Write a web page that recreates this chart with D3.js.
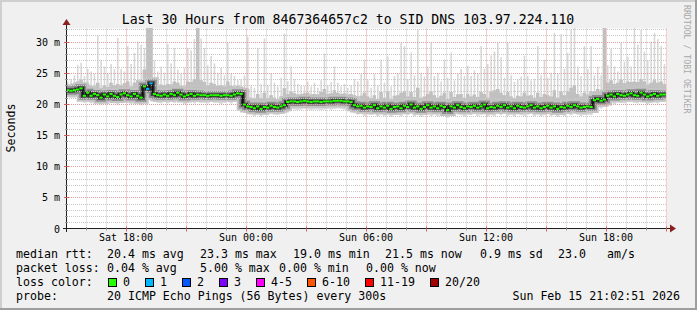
<!DOCTYPE html>
<html><head><meta charset="utf-8">
<script src="https://cdn.jsdelivr.net/npm/d3@7"></script>
<style>
html,body{margin:0;padding:0;background:#f0f0f0;}
svg{display:block;}
text{font-family:"DejaVu Sans Mono",monospace;fill:#000;}
</style></head><body>
<svg id="c" width="697" height="310"></svg>
<script>
// ---------------- data ----------------
const title = "Last 30 Hours from 8467364657c2 to SID DNS 103.97.224.110";
const yLabel = "Seconds";
const watermark = "RRDTOOL / TOBI OETIKER";
const startTime = Date.UTC(2026, 1, 14, 15, 2, 51);
const endTime = Date.UTC(2026, 1, 15, 21, 2, 51);
const firstStep = Date.UTC(2026, 1, 14, 15, 0, 0);
const stepMinutes = 10;

// median rtt (ms) per 10-minute step
const med = [
22.2,22.1,22.2,22.3,22.5,21.3,21.8,21.3,21.6,21.4,
21.0,21.5,21.2,21.6,21.3,21.1,21.5,21.7,21.4,21.2,
21.6,21.3,21.0,22.8,22.4,23.3,21.6,21.4,21.3,21.5,
21.3,21.6,21.4,21.8,21.5,21.2,21.4,21.6,21.3,21.5,
21.4,21.4,21.3,21.4,21.4,21.4,21.3,21.4,21.4,21.3,
21.5,21.7,21.6,19.9,19.6,19.5,19.3,19.6,19.2,19.5,
19.4,19.7,19.5,19.4,19.6,19.8,20.3,20.4,20.4,20.3,
20.4,20.5,20.4,20.3,20.4,20.4,20.3,20.4,20.4,20.4,
20.5,20.5,20.5,20.4,20.4,20.3,19.8,19.6,19.7,19.4,
19.6,19.5,19.8,19.3,19.6,19.4,19.7,19.2,19.5,19.6,
19.3,19.7,19.5,19.9,19.4,19.6,19.2,19.5,19.8,19.4,
19.6,19.3,19.7,19.5,19.0,19.6,19.4,19.8,19.5,19.3,
19.6,19.5,19.7,19.4,19.6,19.9,19.3,19.5,19.4,19.7,
19.5,19.8,19.4,19.6,19.3,19.7,19.5,19.4,19.6,19.8,
19.4,19.6,19.3,19.5,19.7,19.4,19.6,19.2,19.5,19.4,
19.7,19.5,19.8,19.6,19.4,19.5,19.6,19.5,20.6,20.8,
20.5,20.7,21.3,21.5,21.2,21.6,21.4,21.3,21.5,21.7,
21.4,21.3,21.8,21.5,21.2,21.4,21.6,21.3,21.5,21.5];

// max ping (ms) per step - top of the light smoke
const hi = [
23.6,24.0,24.6,26.2,26.6,24.5,25.6,25.2,24.8,31.0,
27.1,26.0,24.8,26.4,25.6,30.6,25.6,25.2,29.3,26.4,
28.2,30.0,29.5,29.0,33.0,33.0,27.0,25.2,26.0,25.0,
29.6,26.5,29.0,25.5,24.9,25.8,29.0,28.6,30.4,33.0,
30.5,29.0,26.2,27.7,26.5,25.0,25.8,24.6,29.8,24.8,
24.5,23.8,24.0,24.6,30.8,22.9,22.6,29.0,23.2,30.5,
23.0,24.9,23.4,22.8,24.2,31.3,23.6,26.0,24.0,23.2,
23.0,22.9,23.6,22.8,23.4,22.6,23.8,28.1,23.0,23.5,
26.0,23.4,22.8,23.2,22.6,23.0,24.0,23.6,24.8,27.1,
23.8,22.6,24.8,23.0,27.1,23.4,27.6,22.8,24.5,24.9,
29.8,29.3,24.0,28.2,24.6,32.0,25.0,24.4,26.0,29.8,
24.5,25.0,23.6,27.1,24.2,28.2,23.8,24.9,25.6,24.5,
26.1,24.5,25.4,24.8,29.3,25.6,26.4,27.8,28.4,29.8,
27.5,24.2,29.8,24.6,23.5,24.0,24.4,27.7,24.5,23.8,
24.0,29.3,24.6,27.1,24.2,25.0,31.4,24.8,31.2,25.6,
28.2,32.0,33.0,26.0,24.5,29.3,25.6,29.3,24.6,26.0,
24.6,33.0,26.2,28.8,26.0,25.2,29.8,26.8,27.6,26.0,
33.0,29.5,31.9,28.4,27.0,30.0,31.4,30.4,29.3,26.4];

// upper edge of the denser (mid-gray) smoke per step
const up = [
22.9,23.0,23.1,23.6,23.9,22.6,23.2,22.9,22.8,23.4,
22.6,23.0,22.7,23.4,22.9,23.2,23.0,23.3,23.6,22.8,
23.4,23.8,23.0,25.5,33.0,33.0,23.6,22.9,23.1,23.0,
23.2,23.1,23.6,23.4,22.9,22.8,23.6,23.5,24.0,33.0,
23.8,23.5,23.0,23.4,23.2,22.9,23.0,22.8,23.6,22.9,
22.8,22.9,22.8,21.6,22.4,21.0,20.8,21.6,20.9,21.8,
20.9,21.4,21.0,20.8,21.2,22.5,21.6,22.0,21.7,21.5,
21.6,21.7,21.8,21.5,21.6,21.5,21.9,22.4,21.6,21.7,
22.2,21.8,21.6,21.7,21.5,21.6,21.4,21.0,21.3,21.8,
21.2,20.9,21.4,20.8,21.9,21.0,22.0,20.7,21.3,21.4,
21.8,22.0,21.2,21.9,21.1,22.6,21.0,21.2,21.6,22.0,
21.4,21.0,21.3,21.8,20.8,21.9,21.1,21.5,21.6,21.0,
21.6,21.2,21.5,21.1,21.9,21.6,21.0,22.0,22.2,22.4,
21.8,21.4,21.9,21.2,20.9,21.3,21.2,21.8,21.3,21.4,
21.0,21.8,21.1,21.6,21.4,21.2,22.2,21.0,22.0,21.4,
22.0,22.6,23.0,21.6,21.2,21.8,21.4,22.0,22.0,22.4,
22.0,33.0,23.4,23.8,23.2,23.4,23.9,23.3,23.6,23.5,
23.6,23.5,24.0,23.6,23.1,23.4,23.8,23.4,23.6,23.2];

// min ping (ms) per step - bottom of the smoke
const lo = [
21.1,21.0,21.0,21.2,21.1,20.2,20.4,20.1,20.3,20.2,
19.9,20.3,20.0,20.4,20.1,19.9,20.2,20.5,20.2,20.0,
20.4,20.1,19.8,21.3,21.1,21.4,20.3,20.2,20.1,20.3,
20.1,20.4,20.2,20.6,20.3,20.0,20.2,20.4,20.1,20.3,
20.2,20.2,20.1,20.3,20.2,20.2,20.0,20.2,20.3,20.1,
20.4,20.5,20.4,18.7,18.4,18.3,18.1,18.4,18.0,18.3,
18.2,18.5,18.3,18.2,18.4,18.6,19.1,19.2,19.1,19.0,
19.1,19.2,19.1,19.0,19.1,19.1,19.0,19.1,19.2,19.1,
19.2,19.3,19.2,19.1,19.1,19.0,18.5,18.3,18.4,18.1,
18.3,18.2,18.4,18.0,18.3,18.1,18.4,17.9,18.2,18.3,
18.0,18.4,18.2,18.6,18.1,18.3,17.9,18.2,18.5,18.1,
18.3,18.0,18.4,18.2,17.8,18.3,18.1,18.5,18.2,18.0,
18.3,18.2,18.4,18.1,18.3,18.6,18.0,18.2,18.1,18.4,
18.2,18.5,18.1,18.3,18.0,18.4,18.2,18.1,18.3,18.5,
18.1,18.3,18.0,18.2,18.4,18.1,18.3,17.9,18.2,18.1,
18.4,18.2,18.5,18.3,18.1,18.2,18.3,18.2,19.3,19.5,
19.3,19.5,20.1,20.3,20.0,20.4,20.2,20.1,20.3,20.5,
20.2,20.1,20.6,20.3,20.0,20.2,20.4,20.1,20.3,20.3];

// steps with packet loss: [step index, lost pings]
const lossSteps = [[24, 1], [25, 1]];

const yTicks = [0, 5, 10, 15, 20, 25, 30];
const yTickLabels = ["0", "5 m", "10 m", "15 m", "20 m", "25 m", "30 m"];
const xTickTimes = [Date.UTC(2026,1,14,18), Date.UTC(2026,1,15,0), Date.UTC(2026,1,15,6), Date.UTC(2026,1,15,12), Date.UTC(2026,1,15,18)];
const xTickLabels = ["Sat 18:00", "Sun 00:00", "Sun 06:00", "Sun 12:00", "Sun 18:00"];

const rttStats = ["20.4 ms avg", "23.3 ms max", "19.0 ms min", "21.5 ms now", "0.9 ms sd", "23.0", "am/s"];
const lossStats = ["0.04 % avg", "5.00 % max", "0.00 % min", "0.00 % now"];
const lossLabels = ["0", "1", "2", "3", "4-5", "6-10", "11-19", "20/20"];
const lossColors = ["#26ff00", "#00b8ff", "#0059ff", "#7e00ff", "#ff00ff", "#ff5500", "#ff0000", "#a10000"];
const lossCountToClass = [0, 1, 2, 3, 4, 4, 5, 5, 5, 5, 5, 6, 6, 6, 6, 6, 6, 6, 6, 6, 7];
const probeText = "20 ICMP Echo Pings (56 Bytes) every 300s";
const dateText = "Sun Feb 15 21:02:51 2026";

// ---------------- layout ----------------
const W = 697, H = 310;
const PL = 67, PR = 667, PT = 28.5, PB = 228.5;
const yMax = 32.1;

const svg = d3.select("#c");
svg.append("rect").attr("width", W).attr("height", H).attr("fill", "#f0f0f0");
svg.append("rect").attr("x", 0).attr("y", 0).attr("width", W).attr("height", 2).attr("fill", "#cfcfcf");
svg.append("rect").attr("x", 0).attr("y", 0).attr("width", 2).attr("height", H).attr("fill", "#cfcfcf");
svg.append("rect").attr("x", 0).attr("y", H - 2).attr("width", W).attr("height", 2).attr("fill", "#9e9e9e");
svg.append("rect").attr("x", W - 2).attr("y", 0).attr("width", 2).attr("height", H).attr("fill", "#9e9e9e");

const x = d3.scaleUtc().domain([startTime, endTime]).range([PL, PR]);
const y = d3.scaleLinear().domain([0, yMax]).range([PB, PT]);

svg.append("rect").attr("x", PL).attr("y", PT).attr("width", PR - PL).attr("height", PB - PT).attr("fill", "#ffffff");

svg.append("defs").append("clipPath").attr("id", "clip")
  .append("rect").attr("x", PL).attr("y", PT - 0.5).attr("width", PR - PL - 1).attr("height", PB - PT);

const rows = med.map((m, i) => ({ t: firstStep + i * stepMinutes * 60000, med: m, hi: hi[i], up: up[i], lo: lo[i], loss: 0 }));
lossSteps.forEach(([i, n]) => { rows[i].loss = n; });
const last = rows[rows.length - 1];
const rowsExt = rows.concat([{ ...last, t: last.t + stepMinutes * 60000 }]);
const stepW = x(firstStep + stepMinutes * 60000) - x(firstStep);

const plot = svg.append("g").attr("clip-path", "url(#clip)");

// smoke: thin light spikes up to the max ping
plot.selectAll("rect.spike").data(rows).join("rect").attr("class", "spike")
  .attr("x", d => x(d.t) + stepW * 0.3).attr("width", stepW * 0.45)
  .attr("y", d => y(d.hi)).attr("height", d => Math.max(0, y(d.lo) - y(d.hi)))
  .attr("fill", "#d6d6d6");
// lighter full-width body
plot.append("path").datum(rowsExt)
  .attr("d", d3.area().curve(d3.curveStepAfter).x(d => x(d.t)).y0(d => y(d.lo)).y1(d => y(d.up)))
  .attr("fill", "#dadada");
plot.append("path").datum(rowsExt)
  .attr("d", d3.area().curve(d3.curveStepAfter).x(d => x(d.t)).y0(d => y(d.med)).y1(d => y(d.up)))
  .attr("fill", "#c0c0c0");
const medLine = d3.line().curve(d3.curveStepAfter).x(d => x(d.t)).y(d => y(d.med));
[[12, "#c4c4c4"], [8, "#8e8e8e"], [4, "#404040"]].forEach(([w, c]) => {
  plot.append("path").datum(rowsExt).attr("d", medLine).attr("fill", "none").attr("stroke", c).attr("stroke-width", w);
});

// grid
const grid = svg.append("g");
for (let v = 1; v <= 32; v++) {
  if (v % 5 === 0) continue;
  const yy = Math.round(y(v)) + 0.5;
  grid.append("line").attr("x1", PL).attr("x2", PR - 1).attr("y1", yy).attr("y2", yy)
    .attr("stroke", "#c8c8c8").attr("stroke-dasharray", "1,1");
}
const hourTicks = d3.utcHour.every(1).range(new Date(startTime), new Date(endTime));
hourTicks.forEach(t => {
  if (t.getUTCHours() % 3 === 0) return;
  const xx = Math.round(x(t)) + 0.5;
  grid.append("line").attr("x1", xx).attr("x2", xx).attr("y1", PT).attr("y2", PB)
    .attr("stroke", "#c8c8c8").attr("stroke-dasharray", "1,1");
});
yTicks.filter(v => v > 0).forEach(v => {
  const yy = Math.round(y(v)) + 0.5;
  grid.append("line").attr("x1", PL).attr("x2", PR - 1).attr("y1", yy).attr("y2", yy)
    .attr("stroke", "#e4a0a0").attr("stroke-dasharray", "1,1");
});
hourTicks.filter(t => t.getUTCHours() % 3 === 0).forEach(t => {
  const xx = Math.round(x(t)) + 0.5;
  grid.append("line").attr("x1", xx).attr("x2", xx).attr("y1", PT).attr("y2", PB)
    .attr("stroke", "#e4a0a0").attr("stroke-dasharray", "1,1");
});

// median coloured by loss
const medG = svg.append("g").attr("clip-path", "url(#clip)");
medG.append("path").datum(rowsExt).attr("d", medLine).attr("fill", "none").attr("stroke", "#111").attr("stroke-width", 2);
rows.forEach(d => {
  medG.append("line")
    .attr("x1", x(d.t)).attr("x2", x(d.t + stepMinutes * 60000))
    .attr("y1", y(d.med)).attr("y2", y(d.med))
    .attr("stroke", lossColors[lossCountToClass[d.loss]]).attr("stroke-width", 2);
});

// axes
const axisCol = "#202020", arrowCol = "#8b1f1f";
svg.append("line").attr("x1", 63).attr("x2", 670).attr("y1", PB).attr("y2", PB).attr("stroke", axisCol);
svg.append("line").attr("x1", PL - 0.5).attr("x2", PL - 0.5).attr("y1", 232).attr("y2", 25).attr("stroke", axisCol);
svg.append("path").attr("d", `M670,${PB - 4}L676,${PB}L670,${PB + 4}Z`).attr("fill", arrowCol);
svg.append("path").attr("d", `M${PL - 4.5},25L${PL - 0.5},19L${PL + 3.5},25Z`).attr("fill", arrowCol);

hourTicks.forEach(t => {
  const xx = Math.round(x(t)) + 0.5;
  const major = t.getUTCHours() % 3 === 0;
  svg.append("line").attr("x1", xx).attr("x2", xx).attr("y1", PB - (major ? 2 : 1.5)).attr("y2", PB + (major ? 3 : 2))
    .attr("stroke", major ? "#d06060" : "#999");
});
for (let v = 1; v <= 32; v++) {
  const yy = Math.round(y(v)) + 0.5;
  const major = v % 5 === 0;
  svg.append("line").attr("x1", PL - (major ? 3 : 2)).attr("x2", PL + (major ? 2 : 1)).attr("y1", yy).attr("y2", yy)
    .attr("stroke", major ? "#d06060" : "#999");
}

yTicks.forEach((v, i) => {
  svg.append("text").attr("x", 60).attr("y", Math.round(y(v)) + 4)
    .attr("text-anchor", "end").attr("font-size", 10).text(yTickLabels[i]);
});
xTickTimes.forEach((t, i) => {
  svg.append("text").attr("x", x(t)).attr("y", 241)
    .attr("text-anchor", "middle").attr("font-size", 10).text(xTickLabels[i]);
});

svg.append("text").attr("x", 348).attr("y", 24).attr("text-anchor", "middle").attr("font-size", 13.2).text(title);
svg.append("text").attr("transform", "translate(14.5,128) rotate(-90)").attr("text-anchor", "middle")
  .attr("font-size", 11.6).text(yLabel);
svg.append("text").attr("transform", "translate(684,5) rotate(90)").attr("font-size", 8.2)
  .style("fill", "#a8a8a8").text(watermark);

// legend
const LF = 11.6;
const rows_y = [257.5, 271.5, 285.5, 299.5];
const leg = svg.append("g").attr("font-size", LF);
leg.append("text").attr("x", 16).attr("y", rows_y[0]).text("median rtt:");
[107, 200, 293, 385, 480, 558, 607].forEach((xx, i) => leg.append("text").attr("x", xx).attr("y", rows_y[0]).text(rttStats[i]));
leg.append("text").attr("x", 16).attr("y", rows_y[1]).text("packet loss:");
[107, 200, 279, 366].forEach((xx, i) => leg.append("text").attr("x", xx).attr("y", rows_y[1]).text(lossStats[i]));
leg.append("text").attr("x", 16).attr("y", rows_y[2]).text("loss color:");
const boxX = [108.5, 145.5, 182.5, 219.5, 256.5, 307.5, 365.5, 430.5];
lossLabels.forEach((lab, i) => {
  leg.append("rect").attr("x", boxX[i]).attr("y", 278.5).attr("width", 8).attr("height", 8)
    .attr("fill", lossColors[i]).attr("stroke", "#000").attr("stroke-width", 1);
  leg.append("text").attr("x", boxX[i] + 14.5).attr("y", rows_y[2]).text(lab);
});
leg.append("text").attr("x", 16).attr("y", rows_y[3]).text("probe:");
leg.append("text").attr("x", 107).attr("y", rows_y[3]).text(probeText);
leg.append("text").attr("x", 680).attr("y", rows_y[3]).attr("text-anchor", "end").text(dateText);
</script>
</body></html>
